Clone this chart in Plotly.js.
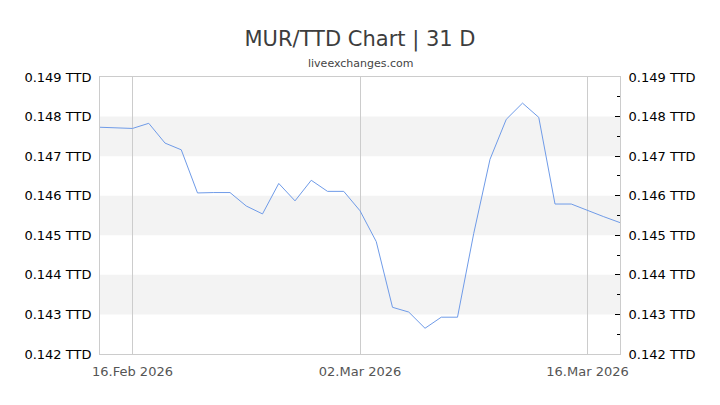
<!DOCTYPE html>
<html>
<head>
<meta charset="utf-8">
<script src="https://cdn.plot.ly/plotly-3.0.1.min.js"></script>
<style>
  html, body { margin: 0; padding: 0; background: #fff; }
  #plot { width: 720px; height: 405px; }
</style>
</head>
<body>
<div id="plot"></div>
<script>
var dates = [
    "2026-02-14", "2026-02-15", "2026-02-16", "2026-02-17", "2026-02-18",
    "2026-02-19", "2026-02-20", "2026-02-21", "2026-02-22", "2026-02-23",
    "2026-02-24", "2026-02-25", "2026-02-26", "2026-02-27", "2026-02-28",
    "2026-03-01", "2026-03-02", "2026-03-03", "2026-03-04", "2026-03-05",
    "2026-03-06", "2026-03-07", "2026-03-08", "2026-03-09", "2026-03-10",
    "2026-03-11", "2026-03-12", "2026-03-13", "2026-03-14", "2026-03-15",
    "2026-03-16", "2026-03-17", "2026-03-18"
];

var rates = [
    0.14773, 0.14772, 0.14770, 0.14783, 0.14733,
    0.14716, 0.14607, 0.14608, 0.14608, 0.14574,
    0.14554, 0.14631, 0.14587, 0.14639, 0.14611,
    0.14611, 0.14562, 0.14484, 0.14318, 0.14306,
    0.14265, 0.14293, 0.14293, 0.14505, 0.14692,
    0.14793, 0.14834, 0.14798, 0.14579, 0.14579,
    0.14562, 0.14547, 0.14532
];

var yTicks = [0.142, 0.143, 0.144, 0.145, 0.146, 0.147, 0.148, 0.149];
var yTickText = yTicks.map(v => v.toFixed(3) + " TTD");

var xTicks = ["2026-02-16", "2026-03-02", "2026-03-16"];
var xTickText = ["16.Feb 2026", "02.Mar 2026", "16.Mar 2026"];

// grey bands on every other row
var bands = [];
for (var i = 1; i < yTicks.length - 1; i += 2) {
    bands.push({
        type: "rect", xref: "paper", yref: "y",
        x0: 0, x1: 1, y0: yTicks[i], y1: yTicks[i + 1],
        fillcolor: "#f3f3f3", line: {width: 0}, layer: "below"
    });
}

var trace = {
    x: dates,
    y: rates,
    type: "scatter",
    mode: "lines",
    line: {color: "#6f9be8", width: 1},
    hoverinfo: "x+y"
};

var trace2 = {
    x: dates,
    y: rates,
    yaxis: "y2",
    type: "scatter",
    mode: "lines",
    line: {color: "rgba(0,0,0,0)", width: 0},
    hoverinfo: "skip",
    showlegend: false
};

var font = "DejaVu Sans, Verdana, sans-serif";

var layout = {
    width: 720,
    height: 405,
    margin: {l: 100, r: 100, t: 77, b: 51},
    paper_bgcolor: "#fff",
    plot_bgcolor: "rgba(0,0,0,0)",
    showlegend: false,
    font: {family: font, size: 13, color: "#000"},
    title: {
        text: "MUR/TTD Chart | 31 D",
        x: 0.5, xanchor: "center",
        y: 0.905, yanchor: "middle",
        font: {family: font, size: 21, color: "#3d3d3d"}
    },
    annotations: [{
        text: "liveexchanges.com",
        xref: "paper", yref: "paper",
        x: 0.5, y: 1, xanchor: "center", yanchor: "bottom",
        yshift: 5,
        showarrow: false,
        font: {family: font, size: 11, color: "#444"}
    }],
    xaxis: {
        type: "date",
        range: ["2026-02-14", "2026-03-18"],
        tickvals: xTicks,
        ticktext: xTickText,
        showgrid: true,
        gridcolor: "#cccccc",
        gridwidth: 1,
        showline: true,
        linecolor: "#cccccc",
        mirror: true,
        ticks: "",
        zeroline: false,
        ticklabelstandoff: 5,
        tickfont: {family: font, size: 13, color: "#555"}
    },
    yaxis: {
        range: [0.142, 0.149],
        tickvals: yTicks,
        ticktext: yTickText,
        showgrid: false,
        zeroline: false,
        showline: true,
        linecolor: "#cccccc",
        ticks: "",
        ticklabelstandoff: 5,
        tickfont: {family: font, size: 13, color: "#000"}
    },
    yaxis2: {
        overlaying: "y",
        side: "right",
        range: [0.142, 0.149],
        tickvals: yTicks,
        ticktext: yTickText,
        showgrid: false,
        zeroline: false,
        showline: true,
        linecolor: "#cccccc",
        ticks: "inside",
        ticklen: 5,
        tickcolor: "#000",
        tickwidth: 1,
        minor: {
            dtick: 0.0005,
            tick0: 0.142,
            ticks: "inside",
            ticklen: 3,
            tickcolor: "#000",
            showgrid: false
        },
        ticklabelstandoff: 5,
        tickfont: {family: font, size: 13, color: "#000"}
    },
    shapes: bands
};

Plotly.newPlot("plot", [trace, trace2], layout, {displayModeBar: false, staticPlot: true});
</script>
</body>
</html>
